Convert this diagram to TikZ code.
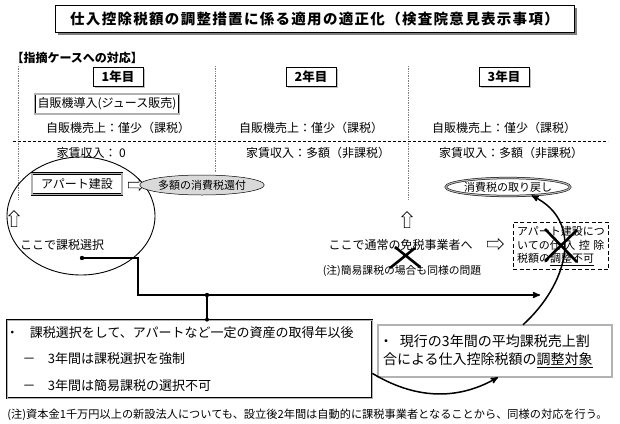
\documentclass[tikz,border=0pt]{standalone}
\usepackage{fontspec}
\setmainfont{Noto Sans CJK JP}
\usetikzlibrary{arrows,positioning,shapes.geometric,shapes.arrows,shadows}

\newcommand{\fsz}[2]{\fontsize{#1}{#2}\selectfont}

\begin{document}
\begin{tikzpicture}[x=1pt,y=-1pt,>=stealth',node distance=193pt,
    every node/.style={font=\fsz{12}{14}},
    title node/.style={draw,fill=white,line width=0.6pt,minimum width=519pt,minimum height=27pt,
      drop shadow={shadow xshift=2.5pt,shadow yshift=-2.5pt,fill=black},
      font=\bfseries\fsz{14.5}{16}\addfontfeature{LetterSpace=9}},
    year node/.style={draw,fill=white,line width=0.5pt,minimum width=50pt,minimum height=19pt,
      drop shadow={shadow xshift=1.5pt,shadow yshift=-1.5pt,fill=gray},font=\bfseries\fsz{12.5}{14}},
    double node/.style={draw,line width=0.5pt,double=gray!60,double distance=1.2pt,inner sep=3pt},
    fat arrow/.style={single arrow,draw,line width=0.6pt,fill=white,minimum height=16pt,
      single arrow head extend=2.5pt,inner sep=2.5pt},
    col line/.style={densely dotted,gray,line width=0.7pt},
    link/.style={line width=1.5pt},
    cross/.style={line width=2.6pt}]

  \useasboundingbox (0,0) rectangle (620,423);

  % title and heading
  \node[title node] (title) at (314.5,18.5) {仕入控除税額の調整措置に係る適用の適正化（検査院意見表示事項）};
  \node[anchor=west,font=\bfseries\fsz{12}{13}] (case) at (8,58) {【指摘ケースへの対応】};

  % years
  \node[year node] (y1) at (118,77) {1年目};
  \node[year node] (y2) [right of=y1] {2年目};
  \node[year node] (y3) [right of=y2] {3年目};

  \draw[col line] (18,66) -- (18,200);
  \draw[col line] (215,66) -- (215,172);
  \draw[col line] (408,66) -- (408,200);
  \draw[densely dashed,line width=0.7pt] (13,141) -- (608,141);

  \node[double node,minimum height=20pt] (vend) at (107,104) {自販機導入(ジュース販売)};
  \node (s1) at (118,128) {自販機売上：僅少（課税）};
  \node (s2) [right of=s1] {自販機売上：僅少（課税）};
  \node (s3) [right of=s2] {自販機売上：僅少（課税）};
  \node[anchor=west] (r1) at (53,153) {家賃収入： 0};
  \node (r2) at (318,153) {家賃収入：多額（非課税）};
  \node (r3) [right of=r2] {家賃収入：多額（非課税）};

  % year 1
  \draw[line width=0.9pt] (81,216) ellipse [x radius=74pt,y radius=59pt];
  \node[double node,minimum width=90pt,minimum height=21pt] (apt) at (77,184) {アパート建設};
  \node[fat arrow] (a1) at (135,185) {};
  \node[ellipse,draw,fill=gray!30,line width=0.5pt,minimum width=100pt,minimum height=20pt,
        inner sep=0pt,font=\fsz{11}{13}] (refund) at (202,185) {多額の消費税還付};
  \node[fat arrow,shape border rotate=90] (a2) at (14,220) {};
  \node (sel) at (62,245) {ここで課税選択};

  % year 2 and 3
  \node[fat arrow,shape border rotate=90] (a3) at (407,221) {};
  \node (exm) at (400.5,245) {ここで通常の免税事業者へ};
  \node[font=\fsz{10.8}{12}] (note) at (402,271) {(注)簡易課税の場合も同様の問題};
  \node[fat arrow] (a4) at (494,244) {};
  \node[draw,line width=1pt,dash pattern=on 4pt off 2.5pt,align=left,inner sep=4pt,
        font=\fsz{11}{13.5}] (nadj) at (561,246)
        {アパート建設につ\\いての仕\hspace{3.5pt}入\hspace{3.5pt}控\hspace{3.5pt}除\\税額の\underline{調整不可}};
  \node[double node,ellipse,minimum width=102pt,minimum height=18pt,inner sep=0pt,
        font=\fsz{11}{13}] (rtn) at (508,187) {消費税の取り戻し};

  \draw[cross] (395,247) -- (420,267) (415,248) -- (390,268);
  \draw[cross] (545,229) -- (577,262) (577,230) -- (545,261);

  % lower boxes
  \node[draw,line width=0.8pt,double=gray!60,double distance=1pt,minimum width=365pt,
        minimum height=78pt,text width=355pt,inner sep=5pt,align=left,font=\fsz{13}{26.5}] (lbox) at (189.5,359)
        {\hspace*{-6pt}・\hspace{11pt}課税選択をして、アパートなど一定の資産の取得年以後\\
         \hspace*{10.5pt}－\hspace{12.5pt}3年間は課税選択を強制\\
         \hspace*{10.5pt}－\hspace{12.5pt}3年間は簡易課税の選択不可};
  \node[double node,double distance=1.5pt,minimum width=234pt,minimum height=52pt,text width=224pt,
        inner sep=5pt,align=left,font=\fsz{14}{18}] (rbox) at (495,351)
        {\hspace*{-4pt}・\hspace{7pt}現行の3年間の平均課税売上割\\合による仕入控除税額の\underline{調整対象}};

  \node[font=\fsz{11.2}{13}] (foot) at (307.5,415)
        {(注)資本金1千万円以上の新設法人についても、設立後2年間は自動的に課税事業者となることから、同様の対応を行う。};

  % connectors
  \coordinate (dot) at (82,258);
  \coordinate (bend) at (138,295);
  \coordinate (jn) at (207,295);
  \coordinate (tip) at (540,295);
  \fill (dot) circle[radius=2.2pt];
  \draw[link,->] (dot) -| (bend) -- (tip);
  \draw[link] (jn) -- (jn |- lbox.north);
  \fill (jn) circle[radius=2.2pt];
  \fill (jn |- lbox.north) circle[radius=2pt];
  \draw[link,->] ([yshift=25pt]lbox.south east) .. controls (420,402) and (462,398) .. ([xshift=3pt]rbox.south);
  \draw[link,->] ([xshift=28pt]rbox.north) .. controls (566,286) and (586,222) .. (rtn.-20);
\end{tikzpicture}
\end{document}
